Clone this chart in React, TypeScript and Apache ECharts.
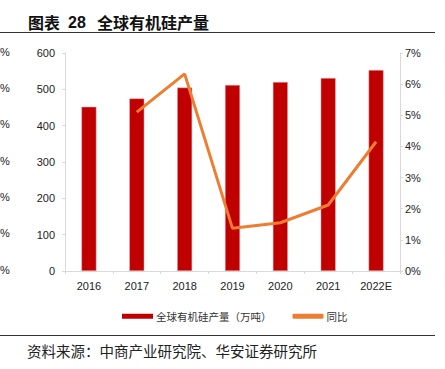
import React, { useEffect, useRef } from "react";
import * as echarts from "echarts";

const categories = ["2016", "2017", "2018", "2019", "2020", "2021", "2022E"];
const production = [452, 475, 505, 512, 520, 531, 553];
const yoy = [null, 5.1, 6.33, 1.37, 1.55, 2.12, 4.15];
const leftTicks = [0, 100, 200, 300, 400, 500, 600];
const barName = "全球有机硅产量（万吨）";
const lineName = "同比";

export default function App() {
  const ref = useRef<HTMLDivElement>(null);
  useEffect(() => {
    if (!ref.current) return;
    const chart = echarts.init(ref.current, null, { renderer: "svg" });
    const axisColor = "#d9d9d9";
    const labelFont = { fontFamily: "Liberation Sans, Arial, sans-serif", fontSize: 11, color: "#222" };
    const gridTop = 53;
    const gridBottomY = 271;
    const step = (gridBottomY - gridTop) / (leftTicks.length - 1);
    const pctStubs = leftTicks.map((_, i) => ({
      type: "text",
      left: 0,
      top: gridTop + i * step - 7,
      style: { text: "%", fontSize: 11, fontFamily: "Liberation Sans, Arial, sans-serif", fill: "#222" },
    }));
    chart.setOption({
      animation: false,
      grid: { left: 65, right: 45, top: gridTop, bottom: 369 - gridBottomY, containLabel: false },
      legend: {
        left: 117,
        top: 306,
        itemWidth: 31,
        itemHeight: 5,
        itemGap: 21,
        textStyle: { fontFamily: "Noto Sans CJK SC", fontSize: 10.5, color: "#333", padding: [0, 0, 0, -2] },
        data: [
          { name: barName, icon: "rect", itemStyle: { borderWidth: 0 } },
          { name: lineName, icon: "roundRect" },
        ],
      },
      xAxis: {
        type: "category",
        data: categories,
        axisLine: { lineStyle: { color: axisColor } },
        axisTick: { show: true, length: 3, lineStyle: { color: axisColor } },
        axisLabel: { ...labelFont, margin: 9 },
      },
      yAxis: [
        {
          type: "value",
          min: 0,
          max: 600,
          interval: 100,
          axisLine: { show: true, lineStyle: { color: axisColor } },
          axisTick: { show: true, length: 3, lineStyle: { color: axisColor } },
          axisLabel: { ...labelFont, margin: 10 },
          splitLine: { show: false },
        },
        {
          type: "value",
          min: 0,
          max: 7,
          interval: 1,
          position: "right",
          axisLine: { show: true, lineStyle: { color: axisColor } },
          axisTick: { show: true, length: 3, lineStyle: { color: axisColor } },
          axisLabel: { ...labelFont, margin: 5, formatter: "{value}%" },
          splitLine: { show: false },
        },
      ],
      series: [
        {
          name: barName,
          type: "bar",
          data: production,
          barWidth: 15,
          itemStyle: { color: "#C00000", borderColor: "#e9b3b3", borderWidth: 0.5 },
        },
        {
          name: lineName,
          type: "line",
          yAxisIndex: 1,
          data: yoy,
          showSymbol: false,
          symbol: "none",
          lineStyle: { color: "#ED7D31", width: 3 },
          itemStyle: { color: "#ED7D31" },
        },
      ],
      graphic: [
        {
          type: "text",
          left: 28,
          top: 14,
          style: { text: "图表", fontSize: 16, fontWeight: "bold", fontFamily: "Noto Sans CJK SC", fill: "#111" },
        },
        {
          type: "text",
          left: 68,
          top: 14,
          style: { text: "28", fontSize: 16, fontWeight: "bold", fontFamily: "Liberation Sans, Arial", fill: "#111" },
        },
        {
          type: "text",
          left: 97,
          top: 14,
          style: { text: "全球有机硅产量", fontSize: 16, fontWeight: "bold", fontFamily: "Noto Sans CJK SC", fill: "#111" },
        },
        {
          type: "line",
          shape: { x1: 0, y1: 32.5, x2: 435, y2: 32.5 },
          style: { stroke: "#333", lineWidth: 1 },
        },
        {
          type: "line",
          shape: { x1: 0, y1: 335.5, x2: 435, y2: 335.5 },
          style: { stroke: "#333", lineWidth: 1 },
        },
        {
          type: "text",
          left: 27,
          top: 343,
          style: { text: "资料来源：中商产业研究院、华安证券研究所", fontSize: 14.5, fontFamily: "Noto Sans CJK SC", fill: "#222" },
        },
        ...pctStubs,
      ],
    });
    return () => chart.dispose();
  }, []);
  return <div ref={ref} style={{ width: 445, height: 369, position: "absolute", left: 0, top: 0 }} />;
}
